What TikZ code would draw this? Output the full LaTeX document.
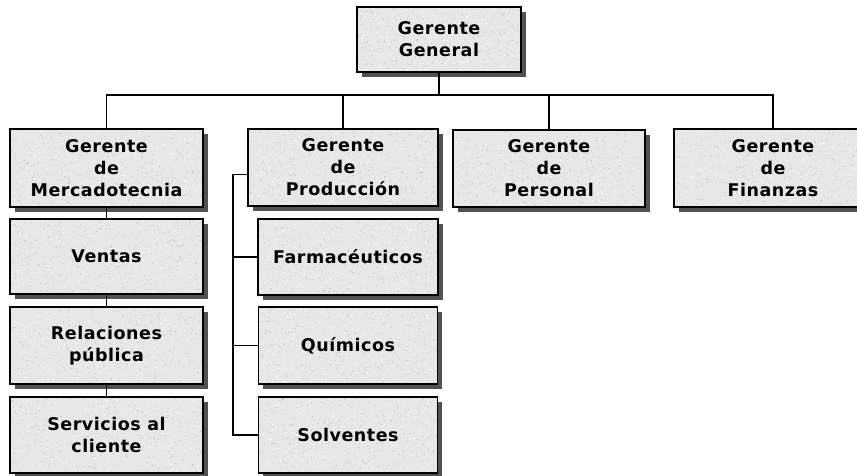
\documentclass[tikz,border=0pt]{standalone}
\usepackage{fontspec}
\usetikzlibrary{shadows,calc}
\newfontfamily\boxfont{DejaVu Sans}[LetterSpace=3]

\tikzset{
  unit/.style={
    draw=black, line width=1.3pt, fill=gray!19,
    drop shadow={shadow xshift=4.5pt, shadow yshift=-4.5pt, fill=black!68, opacity=1},
    align=center, inner sep=0pt,
    font=\boxfont\bfseries\fontsize{17.5}{22}\selectfont,
    path picture={
      \foreach \k in {1,...,280}{
        \fill[gray!50] let \p1=(path picture bounding box.south west),
                           \p2=(path picture bounding box.north east) in
          ({\x1+rnd*(\x2-\x1)}, {\y1+rnd*(\y2-\y1)}) circle[radius=0.55pt];
      }
      \foreach \k in {1,...,240}{
        \fill[white] let \p1=(path picture bounding box.south west),
                         \p2=(path picture bounding box.north east) in
          ({\x1+rnd*(\x2-\x1)}, {\y1+rnd*(\y2-\y1)}) circle[radius=0.6pt];
      }
    }
  },
  link/.style={draw=black, line width=1.3pt}
}

\begin{document}
\pgfmathsetseed{4127}
\begin{tikzpicture}[x=1pt, y=-1pt]
  \clip (0,0) rectangle (857,475);
  \fill[white] (0,0) rectangle (857,475);

  % top level
  \node[unit, minimum width=164pt, minimum height=65pt] (gg) at (439,39.5) {Gerente\\ General};

  % managers
  \node[unit, minimum width=193pt, minimum height=78pt] (mer) at (106.5,168) {Gerente\\ de\\ Mercadotecnia};
  \node[unit, minimum width=190pt, minimum height=77pt] (pro) at (343,167.5) {Gerente\\ de\\ Producción};
  \node[unit, minimum width=192pt, minimum height=77pt] (per) at (549,168.5) {Gerente\\ de\\ Personal};
  \node[unit, minimum width=198pt, minimum height=78pt] (fin) at (773,168) {Gerente\\ de\\ Finanzas};

  % marketing column
  \node[unit, minimum width=193pt, minimum height=75pt] (ven) at (106.5,256.5) {Ventas};
  \node[unit, minimum width=193pt, minimum height=77pt] (rel) at (106.5,345.5) {Relaciones\\ pública};
  \node[unit, minimum width=193pt, minimum height=76pt] (ser) at (106.5,435) {Servicios al\\ cliente};

  % production column
  \node[unit, minimum width=180pt, minimum height=76pt] (far) at (348,257) {Farmacéuticos};
  \node[unit, minimum width=179pt, minimum height=77pt] (qui) at (348,345.5) {Químicos};
  \node[unit, minimum width=179pt, minimum height=76pt] (sol) at (348,435) {Solventes};

  % bus under the general manager
  \coordinate (bus) at (0,95);
  \coordinate (rail) at (233,0);

  \draw[link] (gg.south) -- (gg.south |- bus);
  \draw[link] (mer.north) -- (mer.north |- bus) -- (fin.north |- bus) -- (fin.north);
  \draw[link] (pro.north) -- (pro.north |- bus);
  \draw[link] (per.north) -- (per.north |- bus);

  % marketing chain
  \draw[link] (mer.south) -- (ven.north);
  \draw[link] (ven.south) -- (rel.north);
  \draw[link] (rel.south) -- (ser.north);

  % production rail
  \draw[link] ([yshift=-7pt]pro.west) -| (rail |- sol.west) -- (sol.west);
  \draw[link] (far.west) -- (rail |- far.west);
  \draw[link] (qui.west) -- (rail |- qui.west);
\end{tikzpicture}
\end{document}
